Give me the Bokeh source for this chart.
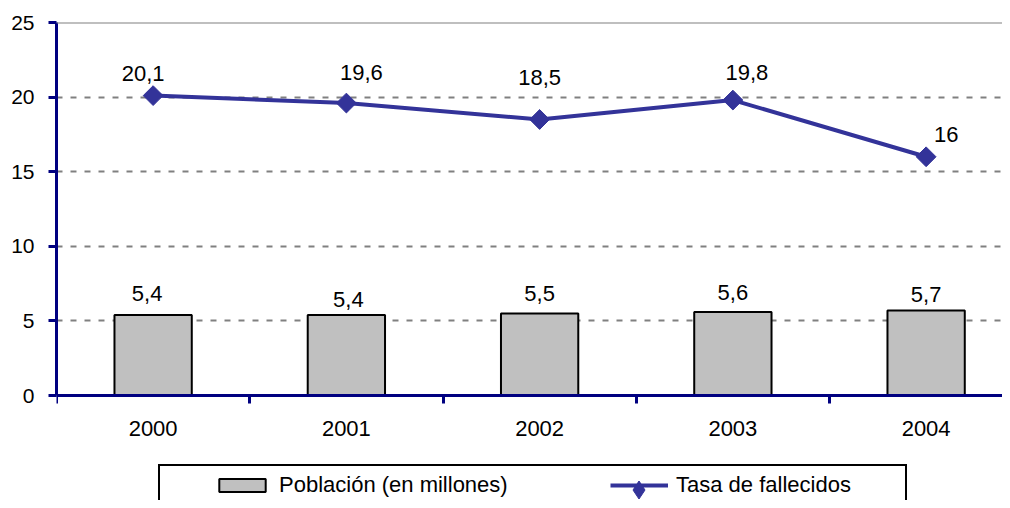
import math
from bokeh.plotting import figure
from bokeh.models import Range1d, FixedTicker, Legend, LegendItem, Span, ColumnDataSource
from bokeh.core.properties import value
from bokeh.embed import file_html
from bokeh.resources import INLINE

# ---- data ----
years = ["2000", "2001", "2002", "2003", "2004"]
poblacion = [5.4, 5.4, 5.5, 5.6, 5.7]          # Población (en millones)
tasa = [20.1, 19.6, 18.5, 19.8, 16.0]          # Tasa de fallecidos
y_ticks = [0, 5, 10, 15, 20, 25]

# ---- style (label nudges in screen px) ----
tasa_dx = [-10, 15, 0, 14, 20]
tasa_dy = [-22, -31, -42, -28, -22]
pob_dx = [-6, 2, 0, 0, 0]
pob_dy = [-21, -15, -20, -19, -16]

FONT = "Liberation Sans"
NAVY = "#000080"
LINE = "#333399"

def fmt(v):
    return f"{v:g}".replace(".", ",")

idx = list(range(len(years)))

# layout geometry (pixels)
W, H = 1002, 500
LEFT, TOP = 56, 22
ZERO_PX = 395                     # screen row of y = 0
CAT_PX = 193.25                   # width of one category
px_per_unit = (ZERO_PX - TOP) / (y_ticks[-1] - y_ticks[0])
y_start = -(H - ZERO_PX) / px_per_unit
x_end = -0.5 + (W - LEFT) / CAT_PX

p = figure(width=W, height=H,
           x_range=Range1d(-0.5, x_end), y_range=Range1d(y_start, y_ticks[-1]),
           output_backend="svg", toolbar_location=None,
           min_border_left=LEFT, min_border_right=0, min_border_top=TOP, min_border_bottom=0)
p.outline_line_color = None
p.background_fill_color = "white"
p.border_fill_color = "white"

# grid
p.xgrid.visible = False
p.ygrid.grid_line_color = "#808080"
p.ygrid.grid_line_dash = "6 8"
p.ygrid.grid_line_width = 2
p.add_layout(Span(location=y_ticks[-1], dimension="width", line_color="#808080", line_width=2))

# y axis
p.yaxis.ticker = FixedTicker(ticks=y_ticks)
p.yaxis.bounds = (y_ticks[0], y_ticks[-1])
p.yaxis.axis_line_color = NAVY
p.yaxis.axis_line_width = 3
p.yaxis.major_tick_line_color = NAVY
p.yaxis.major_tick_line_width = 3
p.yaxis.major_tick_out = 8
p.yaxis.major_tick_in = 0
p.yaxis.minor_tick_line_color = None
p.yaxis.major_label_standoff = 14
p.yaxis.major_label_text_font = FONT
p.yaxis.major_label_text_font_size = "21px"
p.yaxis.major_label_text_color = "black"

# x axis (drawn at y = 0 inside the frame)
p.xaxis.fixed_location = 0
p.xaxis.ticker = FixedTicker(ticks=idx, minor_ticks=[i - 0.5 for i in idx])
p.xaxis.major_label_overrides = {i: y for i, y in zip(idx, years)}
p.xaxis.axis_line_color = NAVY
p.xaxis.axis_line_width = 3
p.xaxis.major_tick_line_color = None
p.xaxis.major_tick_out = 0
p.xaxis.major_tick_in = 0
p.xaxis.minor_tick_line_color = NAVY
p.xaxis.minor_tick_line_width = 3
p.xaxis.minor_tick_out = 8
p.xaxis.minor_tick_in = 0
p.xaxis.major_label_standoff = 17
p.xaxis.major_label_text_font = FONT
p.xaxis.major_label_text_font_size = "22px"
p.xaxis.major_label_text_color = "black"

# bars
bars = p.vbar(x=idx, top=poblacion, width=0.4, fill_color="#C0C0C0",
              line_color="black", line_width=2)

# line with diamonds
ln = p.line(idx, tasa, line_color=LINE, line_width=4)
mk = p.scatter(idx, tasa, marker="square", angle=math.pi / 4, size=14,
               fill_color=LINE, line_color=LINE)
# same points as a (hidden) diamond series, used only for the legend symbol
mk_proxy = p.scatter(idx, tasa, marker="diamond", fill_color=LINE, line_color=LINE,
                     visible=False)

# data labels
src_t = ColumnDataSource(dict(x=idx, y=tasa, t=[fmt(v) for v in tasa], dx=tasa_dx, dy=tasa_dy))
p.text(x="x", y="y", text="t", x_offset="dx", y_offset="dy", source=src_t,
       text_font=value(FONT), text_font_size="22px", text_align="center",
       text_baseline="middle", text_color="black")
src_p = ColumnDataSource(dict(x=idx, y=poblacion, t=[fmt(v) for v in poblacion], dx=pob_dx, dy=pob_dy))
p.text(x="x", y="y", text="t", x_offset="dx", y_offset="dy", source=src_p,
       text_font=value(FONT), text_font_size="22px", text_align="center",
       text_baseline="middle", text_color="black")

# legend box (frame)
dummy = p.scatter(x=[], y=[], fill_alpha=0, line_alpha=0)
box = Legend(items=[LegendItem(label="", renderers=[dummy])],
             location=(158 - LEFT, H - 528), orientation="horizontal",
             padding=0, spacing=0, margin=0, glyph_width=0, glyph_height=60,
             label_standoff=0, label_width=745, label_height=60,
             border_line_color="black", border_line_width=2, border_line_alpha=1.0,
             background_fill_color="white", background_fill_alpha=1.0,
             label_text_font_size="1px")
p.add_layout(box, "center")

common = dict(orientation="horizontal", padding=0, spacing=0, margin=0,
              glyph_width=58, glyph_height=16, label_standoff=8, label_height=16,
              border_line_color=None, background_fill_alpha=0,
              label_text_font=FONT, label_text_font_size="22px",
              label_text_color="black")

leg_bar = Legend(items=[LegendItem(label="Población (en millones)", renderers=[bars])],
                 location=(213 - LEFT, H - 498), **common)
p.add_layout(leg_bar, "center")

leg_line = Legend(items=[LegendItem(label="Tasa de fallecidos", renderers=[ln])],
                  location=(610 - LEFT, H - 498), **common)
p.add_layout(leg_line, "center")

# diamond symbol for the line's legend entry
leg_mk = Legend(items=[LegendItem(label="", renderers=[mk_proxy])],
                location=(616 - LEFT, H - 512), orientation="horizontal",
                padding=0, spacing=0, margin=0, glyph_width=45, glyph_height=45,
                label_standoff=0, label_width=1, label_height=45,
                border_line_color=None, background_fill_alpha=0,
                label_text_font_size="1px")
p.add_layout(leg_mk, "center")

open("out.html", "w").write(file_html(p, INLINE))
